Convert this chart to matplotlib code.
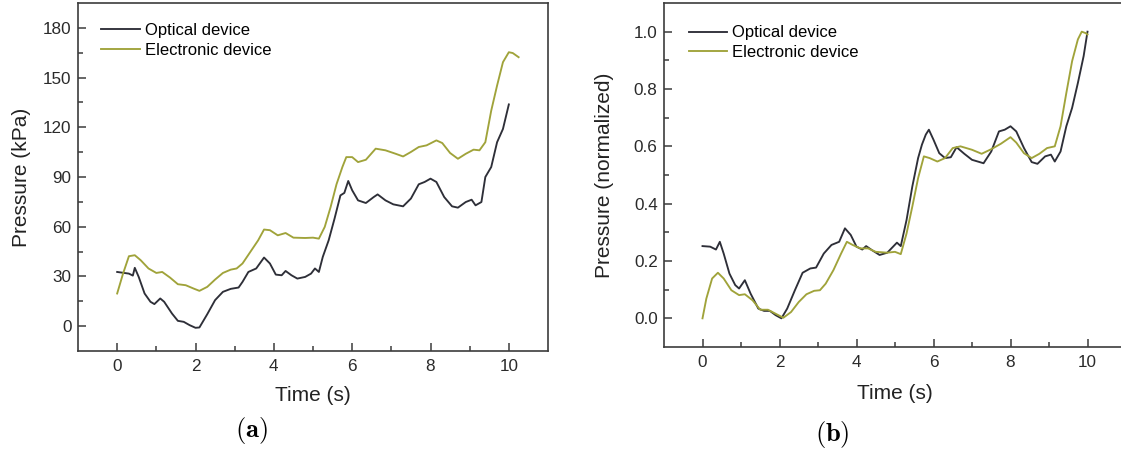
import matplotlib
matplotlib.use("Agg")
import matplotlib.pyplot as plt
from matplotlib.ticker import FixedLocator

plt.rcParams["font.family"] = ["Liberation Sans", "DejaVu Sans"]
plt.rcParams["mathtext.fontset"] = "cm"

# ---- (a) absolute pressure, kPa ----
t_opt_a = [0, 0.3, 0.4, 0.45, 0.55, 0.7, 0.85, 0.95, 1.1, 1.2, 1.4, 1.55, 1.7, 1.85,
           2.0, 2.1, 2.3, 2.5, 2.7, 2.9, 3.1, 3.2, 3.35, 3.55, 3.75, 3.9, 4.05, 4.2,
           4.3, 4.45, 4.6, 4.8, 4.95, 5.05, 5.15, 5.25, 5.4, 5.55, 5.7, 5.8, 5.9,
           6.0, 6.15, 6.35, 6.55, 6.65, 6.85, 7.05, 7.3, 7.5, 7.7, 7.85, 8.0, 8.15,
           8.35, 8.55, 8.7, 8.9, 9.05, 9.15, 9.3, 9.4, 9.55, 9.7, 9.85, 10.0]
p_opt_a = [32.7, 31.7, 30.5, 35.2, 29.7, 19.7, 14.7, 13.3, 16.7, 14.7, 7.6, 3.2, 2.6, 0.6,
           -1.0, -0.8, 7.2, 15.7, 20.7, 22.5, 23.3, 26.7, 32.7, 34.8, 41.4, 37.8, 31.1, 30.7,
           33.3, 30.7, 28.7, 29.7, 31.7, 34.8, 32.7, 41.8, 51.8, 64.9, 78.9, 80.4, 87.6,
           82.0, 75.9, 74.3, 77.9, 79.5, 75.9, 73.5, 72.3, 77.0, 85.6, 87.0, 89.0, 87.0,
           77.9, 72.3, 71.5, 74.9, 76.3, 72.9, 74.9, 90.0, 96.0, 111.0, 119.0, 133.8]

t_ele_a = [0, 0.15, 0.3, 0.45, 0.6, 0.8, 1.0, 1.15, 1.35, 1.55, 1.75, 1.95, 2.1, 2.3,
           2.5, 2.7, 2.9, 3.05, 3.2, 3.4, 3.6, 3.75, 3.9, 4.1, 4.3, 4.5, 4.8, 5.0, 5.15,
           5.3, 5.45, 5.6, 5.75, 5.85, 6.0, 6.15, 6.35, 6.6, 6.85, 7.1, 7.3, 7.5, 7.7,
           7.9, 8.15, 8.3, 8.5, 8.7, 8.9, 9.1, 9.25, 9.4, 9.55, 9.7, 9.85, 10.0, 10.1, 10.25]
p_ele_a = [19.7, 31.7, 42.2, 42.8, 39.8, 34.8, 32.1, 32.7, 29.3, 25.3, 24.7, 22.7, 21.3, 23.7,
           28.1, 32.1, 34.1, 34.8, 37.8, 44.8, 51.8, 58.3, 57.9, 54.8, 56.2, 53.4, 53.2, 53.4, 52.8,
           59.9, 71.9, 85.6, 96.0, 102.0, 102.0, 99.0, 100.4, 107.1, 106.1, 104.1, 102.4, 105.1, 108.1,
           109.1, 112.1, 110.5, 104.5, 101.0, 104.0, 106.5, 106.1, 111.0, 130.0, 145.2, 159.3, 165.3, 164.8, 162.3]

# ---- (b) normalized pressure ----
t_opt_b = [0, 0.2, 0.35, 0.45, 0.55, 0.7, 0.85, 0.95, 1.1, 1.25, 1.45, 1.6, 1.75, 1.9,
           2.05, 2.2, 2.4, 2.6, 2.8, 2.95, 3.15, 3.35, 3.55, 3.7, 3.85, 4.0, 4.15, 4.25,
           4.4, 4.6, 4.8, 4.95, 5.05, 5.15, 5.3, 5.45, 5.6, 5.7, 5.8, 5.88, 6.0, 6.15,
           6.3, 6.45, 6.6, 6.8, 7.0, 7.3, 7.5, 7.7, 7.85, 8.0, 8.15, 8.35, 8.55, 8.7,
           8.9, 9.05, 9.15, 9.3, 9.45, 9.6, 9.75, 9.9, 10.0]
p_opt_b = [0.252, 0.250, 0.240, 0.267, 0.226, 0.156, 0.116, 0.104, 0.133, 0.086, 0.034, 0.026, 0.026, 0.011,
           0.000, 0.034, 0.098, 0.159, 0.174, 0.177, 0.226, 0.256, 0.267, 0.314, 0.291, 0.250, 0.240, 0.252,
           0.238, 0.221, 0.229, 0.250, 0.264, 0.252, 0.343, 0.460, 0.559, 0.606, 0.641, 0.658, 0.623, 0.576,
           0.559, 0.562, 0.597, 0.574, 0.553, 0.541, 0.582, 0.652, 0.658, 0.670, 0.652, 0.594, 0.545, 0.539,
           0.565, 0.571, 0.547, 0.582, 0.670, 0.734, 0.821, 0.915, 1.000]

t_ele_b = [0, 0.1, 0.25, 0.4, 0.55, 0.75, 0.95, 1.1, 1.3, 1.5, 1.7, 1.9, 2.1, 2.3,
           2.5, 2.7, 2.9, 3.05, 3.2, 3.4, 3.6, 3.75, 3.9, 4.1, 4.3, 4.5, 4.8, 5.0, 5.15,
           5.3, 5.45, 5.6, 5.75, 5.9, 6.1, 6.3, 6.5, 6.7, 7.0, 7.25, 7.5, 7.75, 8.0, 8.15,
           8.35, 8.55, 8.75, 8.95, 9.15, 9.3, 9.45, 9.6, 9.75, 9.85, 9.95, 10.0]
p_ele_b = [0.000, 0.069, 0.139, 0.159, 0.139, 0.098, 0.081, 0.084, 0.063, 0.030, 0.030, 0.016, 0.002, 0.022,
           0.057, 0.084, 0.096, 0.098, 0.121, 0.168, 0.226, 0.267, 0.256, 0.244, 0.244, 0.232, 0.229, 0.232, 0.224,
           0.296, 0.390, 0.489, 0.565, 0.559, 0.547, 0.559, 0.594, 0.600, 0.588, 0.574, 0.590, 0.609, 0.632, 0.613,
           0.576, 0.559, 0.574, 0.594, 0.600, 0.670, 0.786, 0.897, 0.973, 1.000, 0.995, 0.990]

series_names = ["Optical device", "Electronic device"]
x_major = [0, 2, 4, 6, 8, 10]
x_minor = [1, 3, 5, 7, 9]
y_major_a = [0, 30, 60, 90, 120, 150, 180]
y_minor_a = [15, 45, 75, 105, 135, 165]
y_major_b = [0.0, 0.2, 0.4, 0.6, 0.8, 1.0]
y_minor_b = [0.1, 0.3, 0.5, 0.7, 0.9]

C_OPT = "#2e2f38"
C_ELE = "#a0a33a"
SPINE = "#3c3c3c"
W, H = 1121, 454

fig = plt.figure(figsize=(W / 100, H / 100), dpi=100)


def px_axes(left, right, top, bottom):
    return fig.add_axes([left / W, (H - bottom) / H, (right - left) / W, (bottom - top) / H])


def style(ax, ymaj, ymin, yfmt, ylabel, ylabelpad, xlabelpad, leg_anchor):
    ax.set_xlim(-1, 11)
    ax.xaxis.set_major_locator(FixedLocator(x_major))
    ax.xaxis.set_minor_locator(FixedLocator(x_minor))
    ax.yaxis.set_major_locator(FixedLocator(ymaj))
    ax.yaxis.set_minor_locator(FixedLocator(ymin))
    ax.set_yticklabels([yfmt.format(v) for v in ymaj])
    ax.set_xticklabels([str(v) for v in x_major])
    for s in ax.spines.values():
        s.set_color(SPINE)
        s.set_linewidth(1.2)
    ax.tick_params(which="both", direction="in", color=SPINE, width=1.1,
                   labelsize=12.3, labelcolor="#2a2a2a", top=False, right=False)
    ax.tick_params(which="major", length=6, pad=4.5)
    ax.tick_params(which="minor", length=3.5)
    ax.tick_params(axis="x", which="major", pad=5.5)
    ax.set_xlabel("Time (s)", fontsize=15, color="#222222", labelpad=xlabelpad)
    ax.set_ylabel(ylabel, fontsize=15, color="#222222", labelpad=ylabelpad)
    ax.legend(frameon=False, loc="upper left", bbox_to_anchor=leg_anchor,
              fontsize=12, handlelength=2.3, handletextpad=0.3,
              labelspacing=0.28, borderpad=0, borderaxespad=0)


# panel (a)
ax1 = px_axes(78, 548, 3, 351)
ax1.plot(t_opt_a, p_opt_a, color=C_OPT, lw=1.35, label=series_names[0])
ax1.plot(t_ele_a, p_ele_a, color=C_ELE, lw=1.35, label=series_names[1])
ax1.set_ylim(-15, 195)
style(ax1, y_major_a, y_minor_a, "{:d}", "Pressure (kPa)", 9, 9, (0.05, 0.942))

# panel (b)
ax2 = px_axes(664, 1126, 3, 347)
ax2.plot(t_opt_b, p_opt_b, color=C_OPT, lw=1.35, label=series_names[0])
ax2.plot(t_ele_b, p_ele_b, color=C_ELE, lw=1.35, label=series_names[1])
ax2.set_ylim(-0.1, 1.1)
style(ax2, y_major_b, y_minor_b, "{:.1f}", "Pressure (normalized)", 14, 10, (0.054, 0.935))

fig.text(251 / W, 1 - 431 / H, r"$\mathbf{(a)}$", fontsize=19, ha="center", va="center")
fig.text(832 / W, 1 - 434 / H, r"$\mathbf{(b)}$", fontsize=19, ha="center", va="center")

fig.savefig("out.png", dpi=100)
